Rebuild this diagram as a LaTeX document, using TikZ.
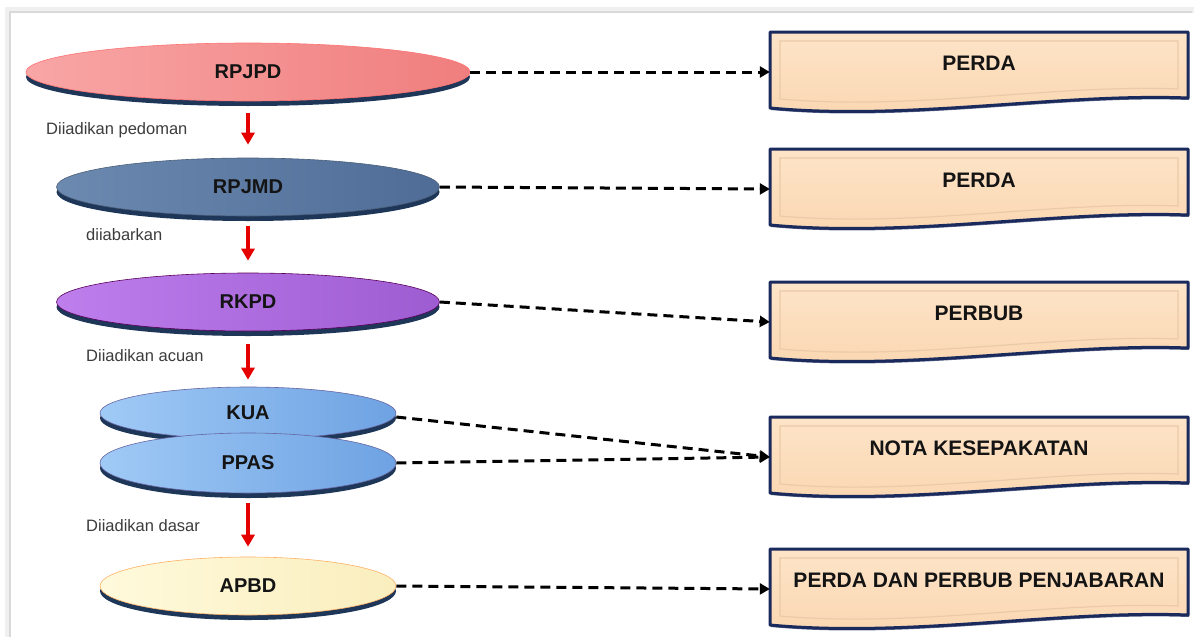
\documentclass[tikz,border=0pt]{standalone}
\usepackage{fontspec}
\setmainfont{Liberation Sans}
\usetikzlibrary{shapes.geometric,arrows.meta,shadows,calc}
\definecolor{navy}{HTML}{1B2A5C}
\definecolor{shnavy}{HTML}{1E3658}
\definecolor{peachA}{HTML}{FDE4C8}
\definecolor{peachB}{HTML}{FAD6B0}
\definecolor{bevel}{HTML}{EACAA8}
\definecolor{lblgray}{HTML}{3C3C3C}
\tikzset{
  ell/.style={ellipse, inner sep=0pt, text=black!92,
    font=\bfseries\fontsize{20}{24}\selectfont, line width=0.6pt,
    drop shadow={shadow xshift=0pt, shadow yshift=-5pt, fill=shnavy, opacity=1}},
  boxouter/.style={top color=peachA, bottom color=peachB, draw=navy, line width=3pt, line join=round,
    drop shadow={shadow xshift=1pt, shadow yshift=-2pt, fill=navy, opacity=0.7}},
  boxinner/.style={draw=bevel, line width=1.2pt},
  boxtext/.style={inner sep=0pt, minimum width=418pt, text=black!92,
    font=\bfseries\fontsize{21}{25}\selectfont},
  lbl/.style={anchor=base west, inner sep=0pt, text=lblgray, font=\fontsize{16.5}{20}\selectfont},
  redarrow/.style={draw=red!90!black, line width=3.2pt, -{Triangle[length=12pt,width=13pt]}},
  dasharrow/.style={draw=black, line width=3pt, dash pattern=on 10pt off 6pt,
    -{Triangle[length=10pt,width=11pt]}}
}
\newcommand\wavebox[2]{%
  \path[boxouter] ($(#1c)+(-209,-31)$) -- ($(#1c)+(209,-31)$) -- ($(#1c)+(209,35)$)
     .. controls ($(#1c)+(80,30)$) and ($(#1c)+(-70,58)$) .. ($(#1c)+(-209,45)$) -- cycle;
  \path[boxinner] ($(#1c)+(-199,-22)$) -- ($(#1c)+(199,-22)$) -- ($(#1c)+(199,26)$)
     .. controls ($(#1c)+(75,21)$) and ($(#1c)+(-65,48)$) .. ($(#1c)+(-199,36)$) -- cycle;
  \node[boxtext] (#1) at (#1c) {#2};
}
\begin{document}
\begin{tikzpicture}[x=1pt,y=-1pt]
\useasboundingbox (0,0) rectangle (1198,637);
\fill[white] (0,0) rectangle (1198,637);
% frame
\draw[gray!12, line width=6pt] (8,637) -- (8,10) -- (1194,10);
\draw[gray!30, line width=1.5pt] (10,637) -- (10,12) -- (1192,12);

% ellipses
\node[ell, minimum width=444pt, minimum height=58pt, draw=red!55!white,
      left color={rgb,255:red,249;green,166;blue,166}, right color={rgb,255:red,240;green,126;blue,126}]
      (rpjpd) at (248,72) {RPJPD};
\node[ell, minimum width=383pt, minimum height=58pt, draw=shnavy!80,
      left color={rgb,255:red,108;green,138;blue,176}, right color={rgb,255:red,78;green,108;blue,150}]
      (rpjmd) at (248,187) {RPJMD};
\node[ell, minimum width=383pt, minimum height=58pt, draw=violet!70!black,
      left color={rgb,255:red,190;green,126;blue,236}, right color={rgb,255:red,158;green,92;blue,210}]
      (rkpd) at (248,302) {RKPD};
\node[ell, minimum width=296pt, minimum height=52pt, draw=blue!40!black!60,
      left color={rgb,255:red,160;green,202;blue,246}, right color={rgb,255:red,110;green,162;blue,226}]
      (kua) at (248,413) {KUA};
\node[ell, minimum width=296pt, minimum height=60pt, draw=blue!40!black!60,
      left color={rgb,255:red,160;green,202;blue,246}, right color={rgb,255:red,110;green,162;blue,226}]
      (ppas) at (248,463) {PPAS};
\node[ell, minimum width=296pt, minimum height=58pt, draw=orange!60,
      left color={rgb,255:red,255;green,250;blue,220}, right color={rgb,255:red,250;green,238;blue,190}]
      (apbd) at (248,586) {APBD};

% labels
\node[lbl] (l1) at (46,134) {Diiadikan pedoman};
\node[lbl] (l2) at (86,240) {diiabarkan};
\node[lbl] (l3) at (86,361) {Diiadikan acuan};
\node[lbl] (l4) at (86,531) {Diiadikan dasar};

% red arrows
\draw[redarrow, shorten <=12pt, shorten >=13pt] (rpjpd.south) -- (rpjmd.north);
\draw[redarrow, shorten <=10pt, shorten >=12pt] (rpjmd.south) -- (rkpd.north);
\draw[redarrow, shorten <=13pt, shorten >=7pt] (rkpd.south) -- (kua.north);
\draw[redarrow, shorten <=10pt, shorten >=10pt] (ppas.south) -- (apbd.north);

% boxes
\coordinate (b1c) at (979,63);
\coordinate (b2c) at (979,180);
\coordinate (b3c) at (979,313);
\coordinate (b4c) at (979,448);
\coordinate (b5c) at (979,580);
\wavebox{b1}{PERDA}
\wavebox{b2}{PERDA}
\wavebox{b3}{PERBUB}
\wavebox{b4}{NOTA KESEPAKATAN}
\wavebox{b5}{PERDA DAN PERBUB PENJABARAN}

% dashed connectors
\draw[dasharrow] (rpjpd.east) -- ([yshift=-9pt]b1.west);
\draw[dasharrow] (rpjmd.east) -- ([yshift=-9pt]b2.west);
\draw[dasharrow] (rkpd.east) -- ([yshift=-9pt]b3.west);
\draw[dasharrow] ([yshift=-4pt]kua.east) -- ([yshift=-9pt]b4.west);
\draw[dasharrow] (ppas.east) -- ([yshift=-9pt]b4.west);
\draw[dasharrow] (apbd.east) -- ([yshift=-9pt]b5.west);
\end{tikzpicture}
\end{document}
